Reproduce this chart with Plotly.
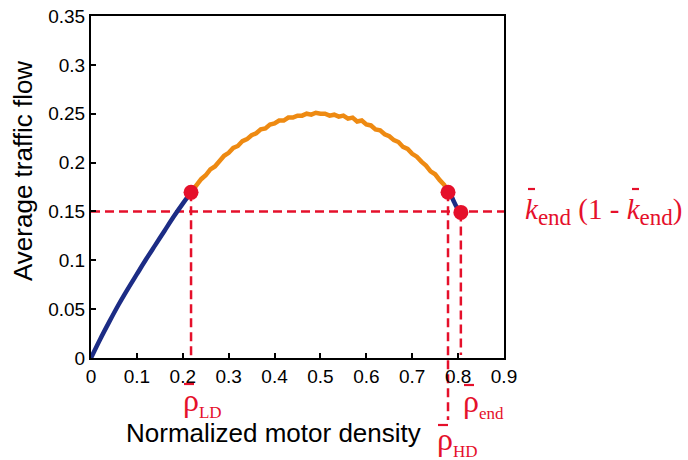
import plotly.graph_objects as go

# ---- data ----
blue_left_x = [0.0, 0.02, 0.04, 0.06, 0.08, 0.10, 0.12, 0.14, 0.16, 0.18, 0.20, 0.218]
blue_left_y = [0.0, 0.0192, 0.0372, 0.0545, 0.0705, 0.0858, 0.1010, 0.1155, 0.1300, 0.1445, 0.1580, 0.1695]

orange_x = [0.218, 0.23, 0.24, 0.25, 0.26, 0.27, 0.28, 0.29, 0.30, 0.31, 0.32, 0.33, 0.34,
            0.35, 0.36, 0.37, 0.38, 0.39, 0.40, 0.41, 0.42, 0.43, 0.44, 0.45, 0.46, 0.47,
            0.48, 0.49, 0.50, 0.51, 0.52, 0.53, 0.54, 0.55, 0.56, 0.57, 0.58, 0.59, 0.60,
            0.61, 0.62, 0.63, 0.64, 0.65, 0.66, 0.67, 0.68, 0.69, 0.70, 0.71, 0.72, 0.73,
            0.74, 0.75, 0.76, 0.77, 0.778]
orange_y = [0.1695, 0.177, 0.183, 0.187, 0.193, 0.196, 0.202, 0.207, 0.210, 0.215, 0.217, 0.222, 0.224,
            0.228, 0.230, 0.234, 0.235, 0.239, 0.240, 0.243, 0.243, 0.246, 0.246, 0.248, 0.248, 0.250,
            0.249, 0.251, 0.250, 0.250, 0.248, 0.249, 0.247, 0.248, 0.245, 0.246, 0.242, 0.243, 0.239,
            0.238, 0.234, 0.233, 0.229, 0.227, 0.223, 0.221, 0.216, 0.214, 0.209, 0.206, 0.201, 0.197,
            0.191, 0.188, 0.182, 0.177, 0.1696]

blue_right_x = [0.778, 0.785, 0.790, 0.795, 0.800, 0.806]
blue_right_y = [0.1696, 0.166, 0.161, 0.156, 0.152, 0.149]

dots_x = [0.218, 0.778, 0.806]
dots_y = [0.1695, 0.1696, 0.149]

rho_LD = 0.218
rho_HD = 0.778
rho_end = 0.806
flow_end = 0.15

x_ticks = [0, 0.1, 0.2, 0.3, 0.4, 0.5, 0.6, 0.7, 0.8, 0.9]
x_ticklabels = ["0", "0.1", "0.2", "0.3", "0.4", "0.5", "0.6", "0.7", "0.8", "0.9"]
y_ticks = [0, 0.05, 0.1, 0.15, 0.2, 0.25, 0.3, 0.35]
y_ticklabels = ["0", "0.05", "0.1", "0.15", "0.2", "0.25", "0.3", "0.35"]

XR = [0, 0.9]
YR = [0, 0.35]

BLUE = "#1c2c85"
ORANGE = "#ee8a12"
RED = "#e5102b"

W, H = 688, 460
ML, MR, MT, MB = 91, 184, 16, 102
PW = W - ML - MR
PH = H - MT - MB


def px2paper_x(p):
    return (p - ML) / PW


def px2paper_y(p):
    return (H - MB - p) / PH


def data2paper_x(v):
    return (v - XR[0]) / (XR[1] - XR[0])


def data2paper_y(v):
    return (v - YR[0]) / (YR[1] - YR[0])


fig = go.Figure()
fig.add_trace(go.Scatter(x=orange_x, y=orange_y, mode="lines",
                         line=dict(color=ORANGE, width=4.5), showlegend=False))
fig.add_trace(go.Scatter(x=blue_left_x, y=blue_left_y, mode="lines",
                         line=dict(color=BLUE, width=4.5, shape="spline"), showlegend=False))
fig.add_trace(go.Scatter(x=blue_right_x, y=blue_right_y, mode="lines",
                         line=dict(color=BLUE, width=4.5, shape="spline"), showlegend=False))

dash = "9px,5px"
shapes = []
shapes.append(dict(type="line", xref="x", yref="y", x0=XR[0], x1=XR[1], y0=flow_end, y1=flow_end,
                   line=dict(color=RED, width=2.5, dash=dash), layer="below"))
shapes.append(dict(type="line", xref="x", yref="y", x0=rho_LD, x1=rho_LD, y0=dots_y[0], y1=0,
                   line=dict(color=RED, width=2.5, dash=dash), layer="below"))
shapes.append(dict(type="line", xref="paper", yref="paper",
                   x0=data2paper_x(rho_HD), x1=data2paper_x(rho_HD),
                   y0=data2paper_y(dots_y[1]), y1=px2paper_y(420),
                   line=dict(color=RED, width=2.5, dash=dash), layer="below"))
shapes.append(dict(type="line", xref="x", yref="y", x0=rho_end, x1=rho_end, y0=dots_y[2], y1=0.003,
                   line=dict(color=RED, width=2.5, dash=dash), layer="below"))

fig.add_trace(go.Scatter(x=dots_x, y=dots_y, mode="markers",
                         marker=dict(color=RED, size=15), showlegend=False, cliponaxis=False))


def bar(x_px, y_px, w=10):
    shapes.append(dict(type="line", xref="paper", yref="paper",
                       x0=px2paper_x(x_px), x1=px2paper_x(x_px + w),
                       y0=px2paper_y(y_px), y1=px2paper_y(y_px),
                       line=dict(color=RED, width=2.2)))


bar(184, 384)
bar(464, 385)
bar(438, 425)
bar(528, 189, 7)
bar(632, 189, 7)

SERIF = "Liberation Serif"
annotations = []


def rho_label(x_px, y_px, sub):
    annotations.append(dict(xref="paper", yref="paper", x=px2paper_x(x_px), y=px2paper_y(y_px),
                            xanchor="left", yanchor="middle", showarrow=False,
                            text="ρ<sub><span style='font-size:17px'>" + sub + "</span></sub>",
                            font=dict(family=SERIF, size=32, color=RED)))


rho_label(181, 402, "LD")
rho_label(461, 403, "end")
rho_label(435, 441, "HD")

annotations.append(dict(xref="paper", yref="y", x=px2paper_x(523), y=flow_end,
                        xanchor="left", yanchor="middle", showarrow=False,
                        text="<i>k</i><sub><span style='font-size:23px'>end</span></sub> (1 - "
                             "<i>k</i><sub><span style='font-size:23px'>end</span></sub>)",
                        font=dict(family=SERIF, size=29, color=RED)))

annotations.append(dict(xref="paper", yref="paper", x=px2paper_x(273), y=px2paper_y(433),
                        xanchor="center", yanchor="middle", showarrow=False,
                        text="Normalized motor density",
                        font=dict(family="Liberation Sans", size=26, color="black")))
annotations.append(dict(xref="paper", yref="paper", x=px2paper_x(23), y=px2paper_y(171),
                        xanchor="center", yanchor="middle", showarrow=False, textangle=-90,
                        text="Average traffic flow",
                        font=dict(family="Liberation Sans", size=26, color="black")))

axis_common = dict(showgrid=False, zeroline=False, showline=True, linecolor="black", linewidth=2,
                   mirror=True, ticks="inside", ticklen=5, tickwidth=1.5, tickcolor="black",
                   automargin=False,
                   tickfont=dict(family="Liberation Sans", size=19, color="black"))

fig.update_layout(
    width=W, height=H,
    margin=dict(l=ML, r=MR, t=MT, b=MB, autoexpand=False),
    paper_bgcolor="white", plot_bgcolor="white",
    xaxis=dict(range=XR, tickvals=x_ticks, ticktext=x_ticklabels, **axis_common),
    yaxis=dict(range=YR, tickvals=y_ticks, ticktext=y_ticklabels, **axis_common),
    shapes=shapes,
    annotations=annotations,
)

fig.write_html("out.html", config={"displayModeBar": False},
               post_script="document.body.style.margin='0';document.body.style.overflow='hidden';")
